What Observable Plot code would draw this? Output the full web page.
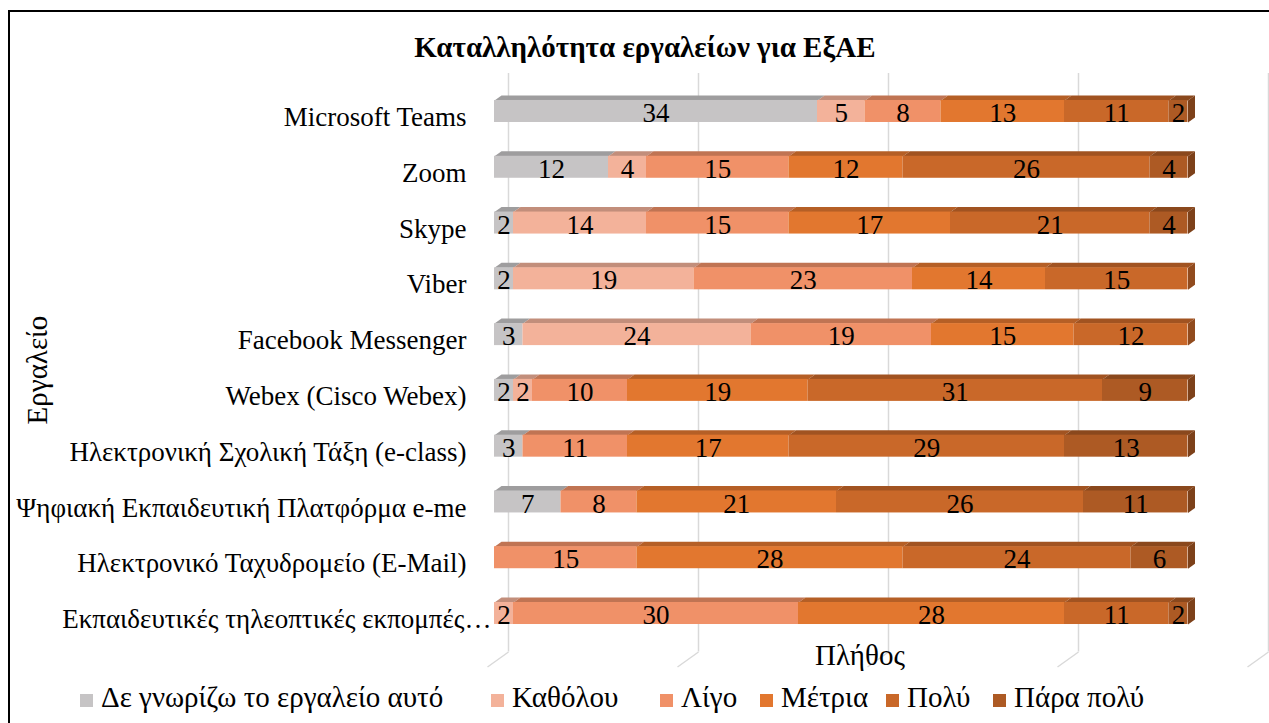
<!DOCTYPE html>
<html>
<head>
<meta charset="utf-8">
<script src="https://cdn.jsdelivr.net/npm/d3@7"></script>
<script src="https://cdn.jsdelivr.net/npm/@observablehq/plot@0.6"></script>
<style>
  html, body { margin: 0; padding: 0; width: 1269px; height: 723px; overflow: hidden; background: #fff; }
  * { font-family: 'Liberation Serif', serif; }
  body { position: relative; color: #000; }
  #frame { position: absolute; left: 8px; top: 10px; width: 1300px; height: 800px; border: 2.5px solid #000; box-sizing: border-box; }
  #title { position: absolute; left: 0; width: 1290px; top: 31px; text-align: center; font-weight: bold; font-size: 29px; }
  #chart { position: absolute; left: 0; top: 70px; }
  #xlabel { position: absolute; left: 760px; width: 200px; top: 639px; text-align: center; font-size: 29px; }
  #ylabel { position: absolute; left: 37px; top: 370px; transform: translate(-50%, -50%) rotate(-90deg); font-size: 29px; white-space: nowrap; }
  #legend { position: absolute; top: 681px; left: 80px; font-size: 29px; white-space: nowrap; }
  .item { position: absolute; top: 0; white-space: nowrap; }
  .sw { display: inline-block; width: 13px; height: 13px; margin-right: 8px; vertical-align: 0px; }
</style>
</head>
<body>
<div id="frame"></div>
<div id="title" style="font-family:'Liberation Serif'">Καταλληλότητα εργαλείων για ΕξΑΕ</div>
<div id="chart"></div>
<div id="xlabel" style="font-family:'Liberation Serif'">Πλήθος</div>
<div id="ylabel" style="font-family:'Liberation Serif'">Εργαλείο</div>
<div id="legend" style="font-family:'Liberation Serif'"></div>
<script>
const tools = [
  "Microsoft Teams",
  "Zoom",
  "Skype",
  "Viber",
  "Facebook Messenger",
  "Webex (Cisco Webex)",
  "Ηλεκτρονική Σχολική Τάξη (e-class)",
  "Ψηφιακή Εκπαιδευτική Πλατφόρμα e-me",
  "Ηλεκτρονικό Ταχυδρομείο (E-Mail)",
  "Εκπαιδευτικές τηλεοπτικές εκπομπές…"
];
const levels = ["Δε γνωρίζω το εργαλείο αυτό", "Καθόλου", "Λίγο", "Μέτρια", "Πολύ", "Πάρα πολύ"];
const levelColors = ["#c6c4c5", "#f3b29a", "#f09168", "#e2772f", "#c96829", "#ad5a24"];
const dontKnow = [34, 12, 2, 2, 3, 2, 3, 7, 0, 0];
const notAtAll = [5, 4, 14, 19, 24, 2, 0, 0, 0, 2];
const little   = [8, 15, 15, 23, 19, 10, 11, 8, 15, 30];
const moderate = [13, 12, 17, 14, 15, 19, 17, 21, 28, 28];
const much     = [11, 26, 21, 15, 12, 31, 29, 26, 24, 11];
const veryMuch = [2, 4, 4, 0, 0, 9, 13, 11, 6, 2];
const gridTicks = [0, 20, 40, 60, 80];

const series = [dontKnow, notAtAll, little, moderate, much, veryMuch];
const FONT = "Liberation Serif";

const W = 1269, H = 600;
const mL = 494, mR = 15, mT = 13.1, mB = 29.1;
const xMax = 80;
const pxPerX = (W - mL - mR) / xMax;
const pxPerY = (H - mT - mB) / tools.length;
const half = 11 / pxPerY;
const depthX = 7 / pxPerX;
const depthY = 5 / pxPerY;

function darker(c, k) { const col = d3.color(c); return d3.rgb(col.r * k, col.g * k, col.b * k).formatHex(); }

const segs = [];
tools.forEach((t, i) => {
  let acc = 0;
  series.forEach((s, j) => {
    const v = s[i];
    if (v > 0) {
      segs.push({tool: t, i, level: j, value: v, x1: acc, x2: acc + v, fill: levelColors[j]});
      acc += v;
    }
  });
});

const polys = [];
segs.forEach((s, k) => {
  const yt = s.i - half;
  const c = darker(s.fill, 0.8);
  polys.push({k: "t" + k, x: s.x1, y: yt, fill: c});
  polys.push({k: "t" + k, x: s.x2, y: yt, fill: c});
  polys.push({k: "t" + k, x: s.x2 + depthX, y: yt - depthY, fill: c});
  polys.push({k: "t" + k, x: s.x1 + depthX, y: yt - depthY, fill: c});
});
tools.forEach((t, i) => {
  const last = segs.filter(s => s.i === i).slice(-1)[0];
  const c = darker(last.fill, 0.72);
  const yt = i - half, yb = i + half;
  polys.push({k: "e" + i, x: last.x2, y: yt, fill: c});
  polys.push({k: "e" + i, x: last.x2 + depthX, y: yt - depthY, fill: c});
  polys.push({k: "e" + i, x: last.x2 + depthX, y: yb - depthY, fill: c});
  polys.push({k: "e" + i, x: last.x2, y: yb, fill: c});
});

const yTop = -0.5 - 10 / pxPerY;
const yBot = tools.length - 0.5 + 0.19;
const diag = gridTicks.map(v => ({x1: v, y1: yBot, x2: v - 21 / pxPerX, y2: yBot + 15 / pxPerY}));
const labelData = tools.map((t, i) => ({t, i}));

const chart = Plot.plot({
  width: W, height: H,
  marginLeft: mL, marginRight: mR, marginTop: mT, marginBottom: mB,
  x: {domain: [0, xMax], axis: null},
  y: {domain: [tools.length - 0.5, -0.5], axis: null},
  style: {fontFamily: FONT, background: "transparent", overflow: "visible"},
  marks: [
    Plot.ruleX(gridTicks, {x: d => d, y1: yTop, y2: yBot, dx: 14, stroke: "#d9d9d9", strokeWidth: 1.5}),
    Plot.link(diag, {x1: "x1", y1: "y1", x2: "x2", y2: "y2", dx: 14, stroke: "#d9d9d9", strokeWidth: 1.5}),
    Plot.line(polys, {x: "x", y: "y", z: "k", fill: "fill", stroke: "none", curve: "linear-closed"}),
    Plot.rect(segs, {x1: "x1", x2: "x2", y1: d => d.i - half, y2: d => d.i + half, fill: "fill"}),
    Plot.text(segs, {x: d => (d.x1 + d.x2) / 2, y: "i", text: d => String(d.value), fontSize: 27, fontFamily: FONT, fill: "#000", dy: 2}),
    Plot.text(labelData.slice(0, -1), {x: 0, y: "i", text: "t", textAnchor: "end", dx: -28, dy: 6, fontSize: 27, fontFamily: FONT, fill: "#000"}),
    Plot.text(labelData.slice(-1), {x: 0, y: "i", text: "t", textAnchor: "end", dx: -3, dy: 6, fontSize: 27, fontFamily: FONT, fill: "#000"})
  ]
});
document.getElementById("chart").appendChild(chart);

const legendX = [0, 411, 580, 680, 806, 913];
const legend = document.getElementById("legend");
levels.forEach((l, j) => {
  const it = document.createElement("div");
  it.className = "item";
  it.style.left = legendX[j] + "px";
  it.style.fontFamily = FONT;
  it.innerHTML = `<span class="sw" style="background:${levelColors[j]}"></span>${l}`;
  legend.appendChild(it);
});
</script>
</body>
</html>
